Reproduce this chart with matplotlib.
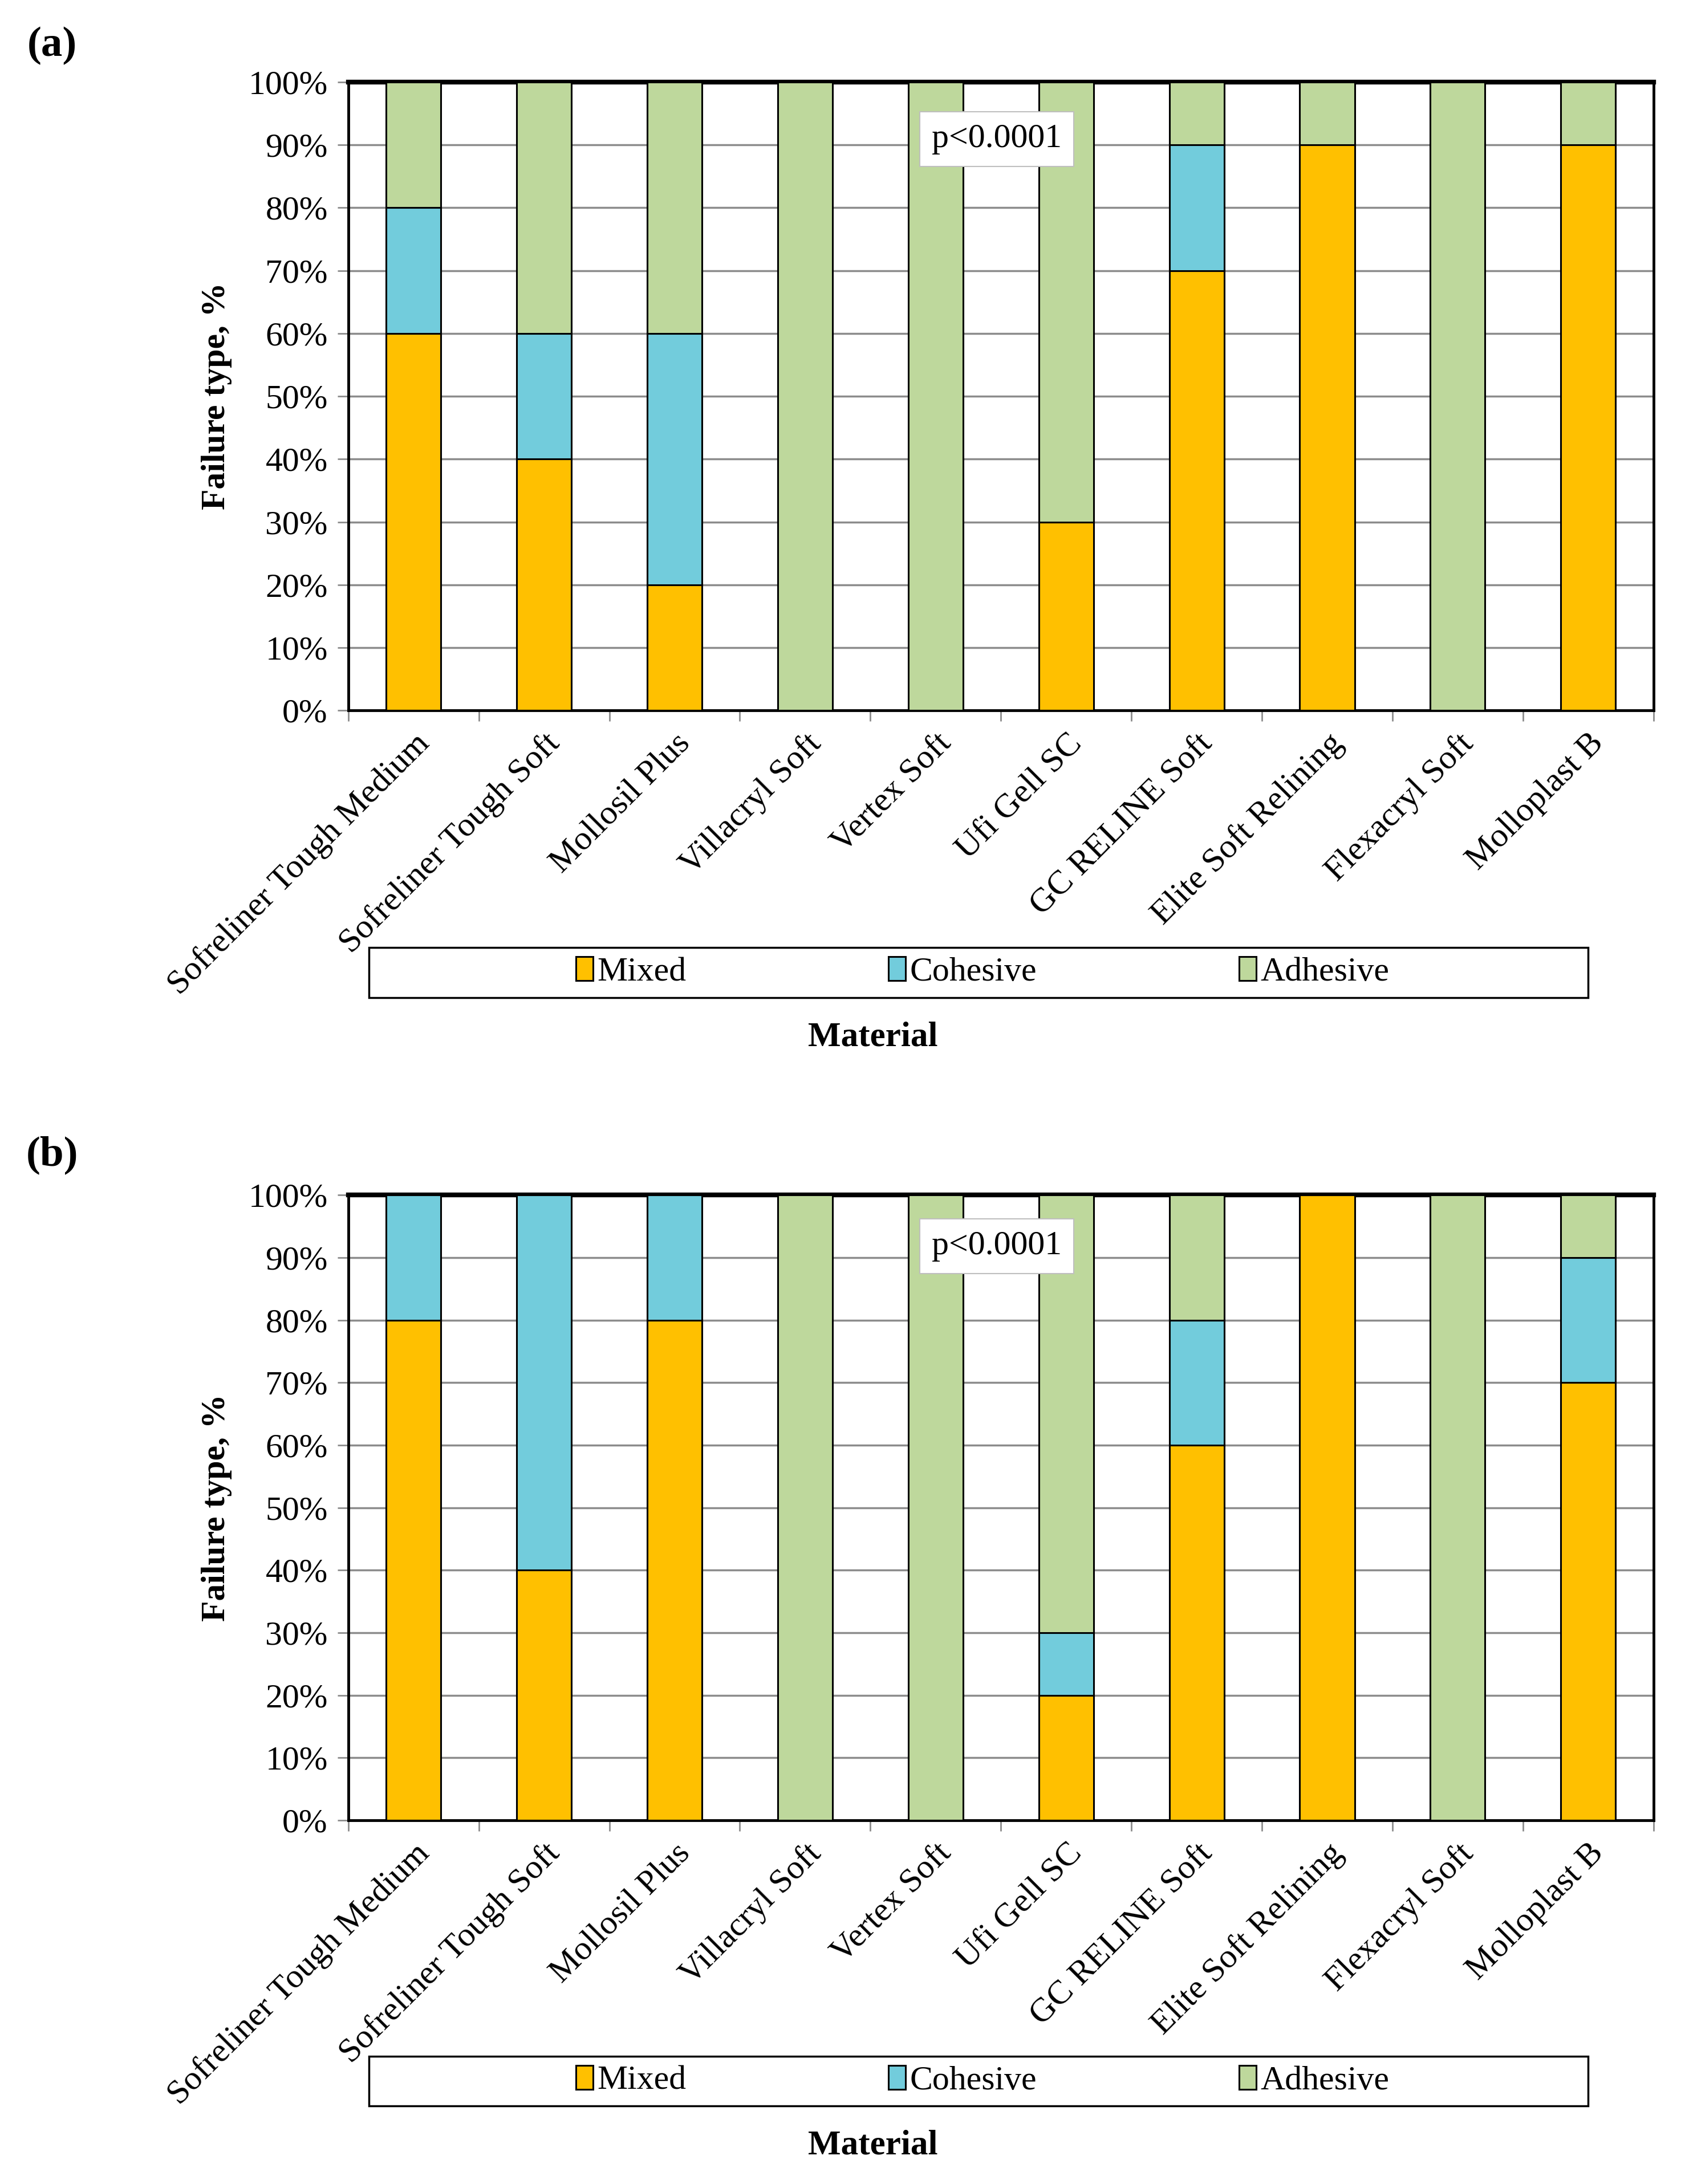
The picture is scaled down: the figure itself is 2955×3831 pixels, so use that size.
import numpy as np
import matplotlib
matplotlib.use("Agg")
import matplotlib.pyplot as plt
from matplotlib.patches import Rectangle

plt.rcParams['font.family'] = ['Liberation Serif', 'DejaVu Serif']

materials = ["Sofreliner Tough Medium", "Sofreliner Tough Soft", "Mollosil Plus",
             "Villacryl Soft", "Vertex Soft", "Ufi Gell SC", "GC RELINE Soft",
             "Elite Soft Relining", "Flexacryl Soft", "Molloplast B"]
series_names = ["Mixed", "Cohesive", "Adhesive"]
colors = ["#FFC000", "#72CCDC", "#BED89C"]

# panel (a), percent of failures
mixed_a = [60, 40, 20, 0, 0, 30, 70, 90, 0, 90]
cohesive_a = [20, 20, 40, 0, 0, 0, 20, 0, 0, 0]
adhesive_a = [20, 40, 40, 100, 100, 70, 10, 10, 100, 10]

# panel (b)
mixed_b = [80, 40, 80, 0, 0, 20, 60, 100, 0, 70]
cohesive_b = [20, 60, 20, 0, 0, 10, 20, 0, 0, 20]
adhesive_b = [0, 0, 0, 100, 100, 70, 20, 0, 100, 10]

yticks = list(range(0, 101, 10))
p_text = "p<0.0001"
FS = 43


def draw_panel(ax, data, p_y):
    x = np.arange(len(materials))
    bottom = np.zeros(len(materials))
    for vals, name, col in zip(data, series_names, colors):
        vals = np.array(vals, dtype=float)
        ax.bar(x, vals, width=0.42, bottom=bottom, color=col, edgecolor="black",
               linewidth=2.2, label=name, zorder=3)
        bottom += vals

    ax.set_xlim(-0.5, len(materials) - 0.5)
    ax.set_ylim(0, 100)
    ax.set_yticks(yticks)
    ax.set_yticklabels([f"{t}%" for t in yticks], fontsize=FS)
    ax.yaxis.grid(True, color="#8c8c8c", linewidth=2.5, zorder=0)
    ax.set_axisbelow(True)

    ax.set_xticks(x)
    ax.set_xticklabels(materials, rotation=45, ha="right", va="top",
                       rotation_mode="anchor", fontsize=FS)
    ax.tick_params(axis="x", length=0, pad=22)
    ax.set_xticks(np.arange(-0.5, len(materials)), minor=True)
    ax.tick_params(axis="x", which="minor", length=14, width=2, color="#8c8c8c")
    ax.tick_params(axis="y", length=14, width=2, color="#8c8c8c", pad=12)

    for s in ax.spines.values():
        s.set_color("black")
        s.set_linewidth(3.5)
    ax.spines["top"].set_linewidth(6)

    ax.text(4.47, p_y, p_text, fontsize=FS, ha="center", va="center", zorder=5,
            bbox=dict(boxstyle="square,pad=0.35", facecolor="white",
                      edgecolor="#bfbfbf", linewidth=1.5))

    ax.text(-0.101, 0.5, "Failure type, %", transform=ax.transAxes, rotation=90,
            ha="center", va="center", fontsize=FS, fontweight="bold")
    ax.text(0.402, -0.52, "Material", transform=ax.transAxes,
            ha="center", va="center", fontsize=FS + 1, fontweight="bold")

    # legend box below the axis
    ax.add_patch(Rectangle((0.016, -0.457), 0.934, 0.08, transform=ax.transAxes,
                           facecolor="white", edgecolor="black", linewidth=2.5,
                           clip_on=False, zorder=1))
    ax.legend(loc="center", bbox_to_anchor=(0.486, -0.417), ncol=3,
              frameon=False, fontsize=FS, handlelength=0.5, handleheight=0.7,
              handletextpad=0.12, columnspacing=5.95)


fig = plt.figure(figsize=(29.55, 38.31), dpi=100)
ax_a = fig.add_axes([0.2067, 0.6747, 0.9813 - 0.2067, 0.9624 - 0.6747])
ax_b = fig.add_axes([0.2067, 0.1665, 0.9813 - 0.2067, 0.4528 - 0.1665])

draw_panel(ax_a, [mixed_a, cohesive_a, adhesive_a], 90.9)
draw_panel(ax_b, [mixed_b, cohesive_b, adhesive_b], 91.8)

fig.text(0.031, 0.979, "(a)", fontsize=54, fontweight="bold", ha="center", va="center")
fig.text(0.031, 0.471, "(b)", fontsize=54, fontweight="bold", ha="center", va="center")

fig.savefig("out.png", dpi=100, facecolor="white")
